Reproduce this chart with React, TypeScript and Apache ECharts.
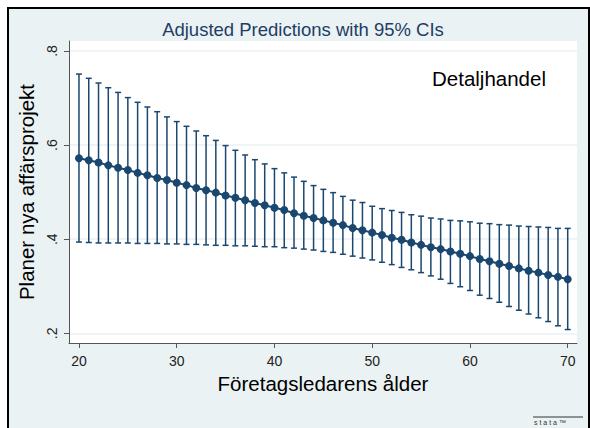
import React, { useEffect, useRef } from "react";
import * as echarts from "echarts";

const ages = [20, 21, 22, 23, 24, 25, 26, 27, 28, 29, 30, 31, 32, 33, 34, 35, 36, 37, 38, 39, 40, 41, 42, 43, 44, 45, 46, 47, 48, 49, 50, 51, 52, 53, 54, 55, 56, 57, 58, 59, 60, 61, 62, 63, 64, 65, 66, 67, 68, 69, 70];
const fit = [0.572, 0.568, 0.563, 0.557, 0.552, 0.547, 0.541, 0.536, 0.530, 0.526, 0.520, 0.515, 0.509, 0.504, 0.499, 0.493, 0.488, 0.483, 0.477, 0.472, 0.467, 0.462, 0.455, 0.450, 0.445, 0.440, 0.435, 0.430, 0.424, 0.419, 0.414, 0.409, 0.403, 0.399, 0.393, 0.388, 0.383, 0.379, 0.374, 0.369, 0.364, 0.358, 0.353, 0.348, 0.343, 0.338, 0.333, 0.329, 0.324, 0.320, 0.315];
const lower = [0.394, 0.393, 0.392, 0.392, 0.392, 0.392, 0.391, 0.391, 0.391, 0.390, 0.390, 0.389, 0.389, 0.388, 0.387, 0.387, 0.386, 0.386, 0.385, 0.384, 0.384, 0.382, 0.381, 0.379, 0.377, 0.374, 0.372, 0.368, 0.364, 0.360, 0.356, 0.351, 0.346, 0.340, 0.335, 0.329, 0.322, 0.315, 0.306, 0.299, 0.291, 0.281, 0.274, 0.266, 0.257, 0.249, 0.241, 0.233, 0.225, 0.216, 0.208];
const upper = [0.751, 0.742, 0.732, 0.722, 0.712, 0.701, 0.691, 0.681, 0.671, 0.660, 0.650, 0.640, 0.630, 0.620, 0.610, 0.599, 0.589, 0.579, 0.569, 0.560, 0.550, 0.541, 0.532, 0.523, 0.514, 0.506, 0.499, 0.491, 0.483, 0.478, 0.470, 0.465, 0.461, 0.457, 0.452, 0.449, 0.445, 0.443, 0.440, 0.439, 0.437, 0.434, 0.433, 0.431, 0.430, 0.428, 0.427, 0.426, 0.425, 0.423, 0.423];
const xTicks = [20, 30, 40, 50, 60, 70];
const yTicks = [0.2, 0.4, 0.6, 0.8];
const titleText = "Adjusted Predictions with 95% CIs";
const panelLabel = "Detaljhandel";
const xTitle = "Företagsledarens ålder";
const yTitle = "Planer nya affärsprojekt";

const FONT = "'Liberation Sans', Arial, sans-serif";
const NAVY = "#1a476f";

export default function App() {
  const ref = useRef<HTMLDivElement>(null);
  useEffect(() => {
    const chart = echarts.init(ref.current!, null, { renderer: "svg" });
    chart.setOption({
      animation: false,
      textStyle: { fontFamily: FONT },
      title: {
        text: titleText,
        left: 298,
        textAlign: "center",
        top: 15,
        textStyle: { fontFamily: FONT, fontSize: 18.5, fontWeight: "normal", color: "#1e3d66" },
      },
      graphic: [
        {
          type: "text",
          left: 432,
          top: 68,
          style: { text: panelLabel, font: `20.5px ${FONT}`, fill: "#000" },
        },
        {
          type: "line",
          shape: { x1: 533, y1: 417, x2: 583, y2: 417 },
          style: { stroke: "#333", lineWidth: 1 },
        },
        {
          type: "text",
          left: 534,
          top: 419,
          style: { text: "s t a t a ™", font: `7px ${FONT}`, fill: "#333" },
        },
      ],
      grid: {
        left: 69,
        top: 41,
        right: 13,
        bottom: 85,
        show: true,
        backgroundColor: "#ffffff",
        borderWidth: 0,
      },
      xAxis: {
        type: "value",
        min: 18.98,
        max: 70.95,
        name: xTitle,
        nameLocation: "middle",
        nameGap: 21,
        nameTextStyle: { fontFamily: FONT, fontSize: 20.5, color: "#000" },
        axisLine: { show: true, lineStyle: { color: "#555", width: 1 } },
        axisTick: { show: true, length: 5, customValues: xTicks, lineStyle: { color: "#555" } },
        axisLabel: { customValues: xTicks, fontSize: 14, color: "#222", margin: 11, fontFamily: FONT },
        splitLine: { show: false },
      },
      yAxis: {
        type: "value",
        min: 0.1794,
        max: 0.8213,
        name: yTitle,
        nameLocation: "middle",
        nameGap: 26,
        nameRotate: 90,
        nameTextStyle: { fontFamily: FONT, fontSize: 20.5, color: "#000" },
        axisLine: { show: true, lineStyle: { color: "#555", width: 1 } },
        axisTick: { show: true, length: 5, customValues: yTicks, lineStyle: { color: "#555" } },
        axisLabel: {
          customValues: yTicks,
          rotate: 90,
          fontSize: 14,
          color: "#222",
          margin: 10,
          fontFamily: FONT,
          formatter: (v: number) => v.toFixed(1).replace(/^0/, ""),
        },
        splitLine: { show: true, lineStyle: { color: "#eaf2f3", width: 1.5 } },
      },
      series: [
        {
          type: "custom",
          z: 2,
          data: ages.map((a, i) => [a, lower[i], upper[i]]),
          encode: { x: 0, y: [1, 2] },
          renderItem: (params: any, api: any) => {
            const x = api.value(0);
            const lo = api.coord([x, api.value(1)]);
            const hi = api.coord([x, api.value(2)]);
            const hw = 3;
            const style = { stroke: NAVY, lineWidth: 1.5 };
            return {
              type: "group",
              children: [
                { type: "line", shape: { x1: lo[0], y1: lo[1], x2: hi[0], y2: hi[1] }, style },
                { type: "line", shape: { x1: lo[0] - hw, y1: lo[1], x2: lo[0] + hw, y2: lo[1] }, style },
                { type: "line", shape: { x1: hi[0] - hw, y1: hi[1], x2: hi[0] + hw, y2: hi[1] }, style },
              ],
            };
          },
        },
        {
          type: "line",
          z: 3,
          data: ages.map((a, i) => [a, fit[i]]),
          symbol: "circle",
          symbolSize: 8,
          lineStyle: { color: NAVY, width: 2 },
          itemStyle: { color: NAVY },
        },
      ],
    });
    return () => chart.dispose();
  }, []);

  return (
    <div style={{ position: "fixed", left: 0, top: 0, width: 590, height: 428, overflow: "hidden", background: "#fff" }}>
      <div
        style={{
          position: "absolute",
          left: 7,
          top: 7,
          width: 583,
          height: 440,
          boxSizing: "border-box",
          border: "2.5px solid #000",
          background: "#eaf2f3",
        }}
      />
      <div ref={ref} style={{ position: "absolute", left: 0, top: 0, width: 590, height: 428 }} />
    </div>
  );
}
